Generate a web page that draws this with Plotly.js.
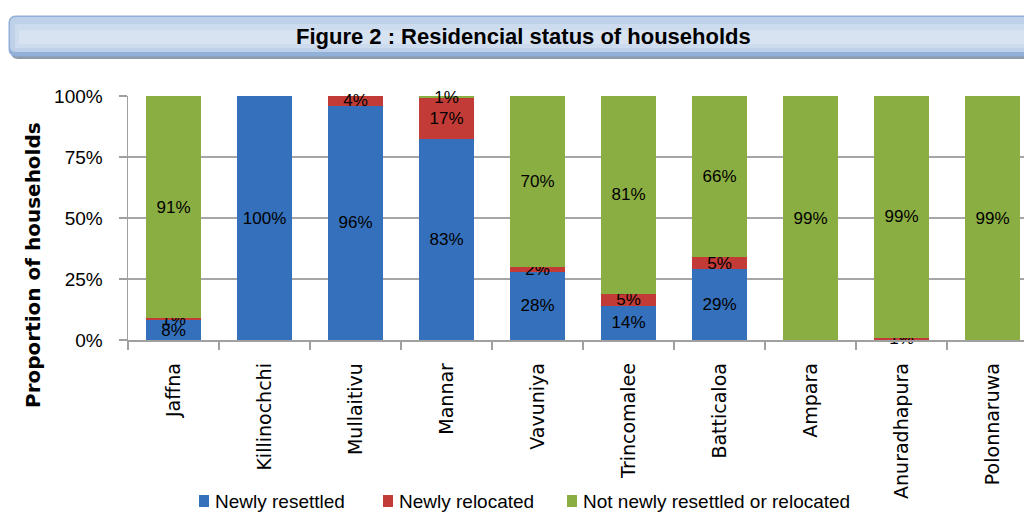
<!DOCTYPE html>
<html>
<head>
<meta charset="utf-8">
<script src="https://cdn.plot.ly/plotly-3.0.1.min.js"></script>
<style>
  html, body { margin: 0; padding: 0; background: #ffffff; overflow: hidden; width: 1024px; height: 512px; }
  #chart { width: 1024px; height: 512px; }
</style>
</head>
<body>
<div id="chart"></div>
<script>
// ---- data ----
const categories = ['Jaffna', 'Killinochchi', 'Mullaitivu', 'Mannar', 'Vavuniya',
                    'Trincomalee', 'Batticaloa', 'Ampara', 'Anuradhapura', 'Polonnaruwa'];
const newlyResettled = [8, 100, 96, 83, 28, 14, 29, 0, 0, 0];
const newlyRelocated = [1, 0, 4, 17, 2, 5, 5, 0, 1, 0];
const notNewly = [91, 0, 0, 1, 70, 81, 66, 99, 99, 99];
const seriesNames = ['Newly resettled', 'Newly relocated', 'Not newly resettled or relocated'];
const seriesColors = ['#3470bb', '#c23b36', '#8bae43'];
const yTickVals = [0, 25, 50, 75, 100];
const yTickText = ['0%', '25%', '50%', '75%', '100%'];
const chartTitle = 'Figure 2 : Residencial status of households';
const yTitle = 'Proportion of households';

// ---- layout geometry (page pixels) ----
const W = 1024, H = 512;
const L = 128, R = 0, T = 96, B = 172;
const PW = W - L - R, PH = H - T - B;
const catStep = 91;                       // pixels per category in the reference
const xRangeEnd = -0.5 + PW / catStep;     // plot is cut off at the right edge
const px = x => (x - L) / PW;
const py = y => (H - B - y) / PH;

const labelFont = { family: 'Liberation Sans, Arial, sans-serif', size: 17, color: '#000000' };
const lbl = arr => arr.map(v => v > 0 ? v + '%' : '');

function barTrace(vals, name, color) {
  return {
    type: 'bar', x: categories, y: vals, name: name,
    marker: { color: color, line: { width: 0 } },
    text: lbl(vals), textposition: 'inside', insidetextanchor: 'middle',
    textangle: 0, constraintext: 'none', textfont: labelFont,
    insidetextfont: labelFont, cliponaxis: false, hoverinfo: 'skip'
  };
}

const data = [
  barTrace(newlyResettled, seriesNames[0], seriesColors[0]),
  barTrace(newlyRelocated, seriesNames[1], seriesColors[1]),
  barTrace(notNewly, seriesNames[2], seriesColors[2])
];

// banner path with rounded left corners
const bx0 = 9, bx1 = 1030, by0 = 16, by1 = 56, r = 7;
function bannerPath(x0, x1, y0, y1, rad) {
  return 'M ' + px(x0 + rad) + ',' + py(y0) +
    ' L ' + px(x1) + ',' + py(y0) +
    ' L ' + px(x1) + ',' + py(y1) +
    ' L ' + px(x0 + rad) + ',' + py(y1) +
    ' Q ' + px(x0) + ',' + py(y1) + ' ' + px(x0) + ',' + py(y1 - rad) +
    ' L ' + px(x0) + ',' + py(y0 + rad) +
    ' Q ' + px(x0) + ',' + py(y0) + ' ' + px(x0 + rad) + ',' + py(y0) + ' Z';
}

const shapes = [
  { type: 'path', xref: 'paper', yref: 'paper', path: bannerPath(bx0 + 2, bx1, by0 + 3, by1 + 3, r),
    fillcolor: '#8f9bab', line: { width: 0 }, layer: 'below' },
  { type: 'path', xref: 'paper', yref: 'paper', path: bannerPath(bx0, bx1, by0, by1, r),
    fillcolor: '#92b1d9', line: { color: '#8eacd6', width: 1 }, layer: 'below' },
  { type: 'path', xref: 'paper', yref: 'paper', path: bannerPath(bx0 + 1, bx1, by0 + 1, by1 - 4, r - 1),
    fillcolor: '#bfd0e9', line: { width: 0 }, layer: 'below' },
  { type: 'rect', xref: 'paper', yref: 'paper', x0: px(bx0 + 6), x1: px(bx1), y0: py(by0 + 8), y1: py(by1 - 8),
    fillcolor: '#cddbef', line: { width: 0 }, layer: 'below' },
  { type: 'rect', xref: 'paper', yref: 'paper', x0: px(bx0 + 10), x1: px(bx1), y0: py(by0 + 14), y1: py(by1 - 12),
    fillcolor: '#d8e3f2', line: { width: 0 }, layer: 'below' }
];

// custom legend (drawn with shapes + annotations, so it doesn't push the margins)
const legendX = [199, 383, 567];
const legendY = 501;
const legendFont = { family: 'Liberation Sans Narrow, Liberation Sans, Arial, sans-serif', size: 19, color: '#000000' };
const legendAnn = [];
seriesNames.forEach((name, i) => {
  shapes.push({ type: 'rect', xref: 'paper', yref: 'paper',
    x0: px(legendX[i]), x1: px(legendX[i] + 10), y0: py(legendY - 6), y1: py(legendY + 6),
    fillcolor: seriesColors[i], line: { width: 0 } });
  legendAnn.push({ text: name, xref: 'paper', yref: 'paper', x: px(legendX[i] + 14), y: py(legendY),
    xanchor: 'left', yanchor: 'middle', showarrow: false, font: legendFont });
});

const layout = {
  width: W, height: H,
  margin: { l: L, r: R, t: T, b: B, pad: 0 },
  paper_bgcolor: '#ffffff', plot_bgcolor: '#ffffff',
  barmode: 'stack', barnorm: 'percent', bargap: 0.4,
  showlegend: false,
  xaxis: {
    type: 'category', range: [-0.5, xRangeEnd], tickangle: -90, ticks: 'outside',
    tickson: 'boundaries', ticklen: 8, tickcolor: '#a0a0a0', tickwidth: 1.5,
    showline: true, linecolor: '#a0a0a0', linewidth: 1.5, showgrid: false,
    tickfont: { family: 'DejaVu Sans, Verdana, sans-serif', size: 19, color: '#000000' },
    ticklabelstandoff: 14, fixedrange: true, automargin: false
  },
  yaxis: {
    range: [0, 100], tickvals: yTickVals, ticktext: yTickText,
    ticks: 'outside', ticklen: 8, tickcolor: '#a0a0a0', tickwidth: 1.5,
    showline: true, linecolor: '#a0a0a0', linewidth: 1.5,
    showgrid: true, gridcolor: '#a6a6a6', gridwidth: 1.5, zeroline: false,
    tickfont: { family: 'Liberation Sans, Arial, sans-serif', size: 19, color: '#000000' },
    ticklabelstandoff: 12, fixedrange: true, automargin: false
  },
  shapes: shapes,
  annotations: [
    { text: '<b>' + chartTitle + '</b>', xref: 'paper', yref: 'paper', x: px(523), y: py(37),
      xanchor: 'center', yanchor: 'middle', showarrow: false,
      font: { family: 'Liberation Sans Narrow, Liberation Sans, Arial, sans-serif', size: 22, color: '#000000' } },
    { text: '<b>' + yTitle + '</b>', xref: 'paper', yref: 'paper', x: px(33), y: py(265),
      xanchor: 'center', yanchor: 'middle', textangle: -90, showarrow: false,
      font: { family: 'DejaVu Sans, Verdana, sans-serif', size: 20, color: '#000000' } }
  ].concat(legendAnn)
};

Plotly.newPlot('chart', data, layout, { staticPlot: true, displayModeBar: false });
</script>
</body>
</html>
